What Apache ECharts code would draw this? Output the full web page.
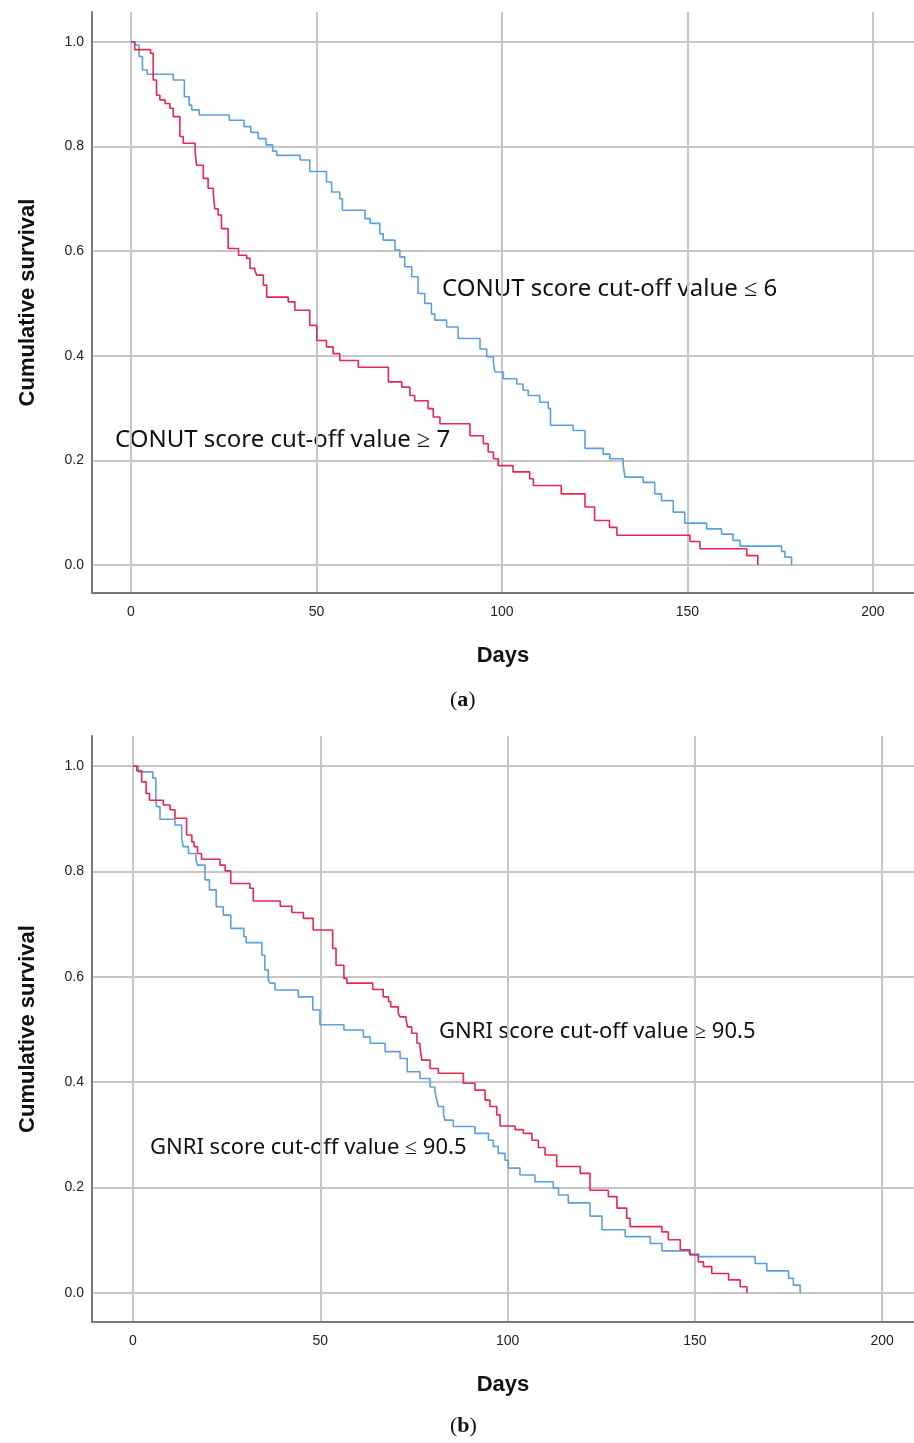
<!DOCTYPE html>
<html>
<head>
<meta charset="utf-8">
<script src="https://cdn.jsdelivr.net/npm/echarts@6/dist/echarts.min.js"></script>
<style>
html,body{margin:0;padding:0;background:#fff;}
#chart{width:914px;height:1443px;}
</style>
</head>
<body>
<div id="chart"></div>
<script>
// ---- data (days, cumulative survival after event) ----
var conutHigh = [[0,1.0],[1.0,0.985],[5.3,0.978],[6.0,0.927],[6.9,0.898],[7.8,0.889],[9.2,0.882],[10.5,0.873],[11.4,0.857],[13.2,0.819],[14.1,0.806],[17.3,0.790],[17.7,0.764],[19.5,0.739],[20.8,0.720],[22.2,0.710],[22.6,0.681],[23.5,0.669],[24.4,0.643],[26.2,0.605],[29.0,0.592],[31.2,0.586],[32.1,0.567],[33.4,0.563],[33.9,0.554],[35.7,0.535],[36.6,0.512],[42.4,0.503],[44.2,0.487],[48.2,0.458],[50.1,0.429],[52.7,0.417],[54.5,0.404],[56.3,0.391],[61.3,0.378],[69.4,0.350],[73.0,0.340],[75.2,0.324],[76.5,0.314],[80.1,0.299],[81.5,0.283],[83.3,0.270],[91.4,0.247],[95.0,0.232],[96.3,0.216],[97.7,0.203],[99.0,0.190],[103.0,0.178],[107.5,0.165],[108.5,0.152],[116.0,0.136],[122.4,0.111],[125.0,0.085],[129.0,0.072],[131.0,0.057],[150.7,0.045],[153.4,0.031],[166.0,0.018],[169.0,0.0]];
var conutLow = [[0,1.0],[1.1,0.994],[2.2,0.972],[3.1,0.946],[4.4,0.938],[11.4,0.927],[14.4,0.895],[15.7,0.879],[16.4,0.870],[18.4,0.860],[26.5,0.850],[30.5,0.838],[32.3,0.827],[34.3,0.815],[36.4,0.803],[38.2,0.791],[39.3,0.783],[45.6,0.774],[48.2,0.752],[52.7,0.732],[54.1,0.713],[56.3,0.700],[57.0,0.678],[63.1,0.662],[64.5,0.653],[67.1,0.633],[68.0,0.621],[71.2,0.602],[72.5,0.589],[73.8,0.570],[75.7,0.551],[77.4,0.519],[79.2,0.500],[81.0,0.480],[81.9,0.468],[85.1,0.455],[88.2,0.433],[94.1,0.413],[95.9,0.398],[97.7,0.388],[98.1,0.369],[100.4,0.356],[104.0,0.346],[105.7,0.334],[107.1,0.324],[110.2,0.311],[112.5,0.299],[113.1,0.267],[119.2,0.257],[122.4,0.223],[127.3,0.212],[129.1,0.203],[132.7,0.190],[133.2,0.168],[138.1,0.158],[141.2,0.136],[143.0,0.123],[146.2,0.101],[149.3,0.080],[155.2,0.069],[159.2,0.059],[162.3,0.047],[164.2,0.036],[175.4,0.026],[176.3,0.015],[178.1,0.0]];
var gnriHigh = [[0,1.0],[1.0,0.991],[2.3,0.970],[3.5,0.948],[4.4,0.935],[8.1,0.926],[9.9,0.917],[11.2,0.901],[14.3,0.869],[15.7,0.856],[16.3,0.847],[17.2,0.834],[18.3,0.823],[23.2,0.812],[24.6,0.801],[26.1,0.777],[31.2,0.768],[32.1,0.744],[39.3,0.734],[42.4,0.722],[45.5,0.711],[48.1,0.689],[53.3,0.654],[54.2,0.622],[56.3,0.597],[57.1,0.588],[64.0,0.576],[66.8,0.562],[68.2,0.553],[68.8,0.543],[70.8,0.531],[71.3,0.524],[72.9,0.518],[73.3,0.505],[74.4,0.493],[75.8,0.474],[76.6,0.467],[77.1,0.442],[79.3,0.426],[81.5,0.417],[88.2,0.398],[91.3,0.385],[94.0,0.366],[95.3,0.354],[97.1,0.338],[98.0,0.317],[102.0,0.310],[104.2,0.303],[106.5,0.290],[108.2,0.276],[110.0,0.262],[113.1,0.240],[119.4,0.227],[122.0,0.195],[126.9,0.183],[129.2,0.161],[131.8,0.142],[132.7,0.126],[141.2,0.116],[142.9,0.101],[146.1,0.082],[148.7,0.072],[150.9,0.059],[152.3,0.050],[154.5,0.037],[159.0,0.025],[162.1,0.012],[163.9,0.0]];
var gnriLow = [[0,1.0],[1.4,0.989],[5.3,0.977],[6.1,0.935],[6.3,0.923],[7.2,0.899],[11.2,0.888],[13.0,0.863],[13.4,0.847],[14.8,0.834],[16.8,0.822],[17.2,0.812],[19.2,0.784],[20.4,0.765],[22.2,0.733],[24.1,0.717],[26.1,0.692],[29.6,0.676],[30.2,0.665],[34.4,0.641],[35.2,0.613],[36.1,0.594],[36.6,0.588],[37.9,0.575],[44.1,0.562],[48.0,0.537],[49.9,0.509],[56.3,0.499],[61.5,0.486],[63.3,0.474],[67.3,0.458],[71.3,0.445],[73.2,0.420],[76.6,0.407],[79.3,0.391],[80.6,0.382],[81.1,0.366],[81.5,0.354],[82.9,0.338],[83.3,0.328],[85.5,0.316],[91.3,0.303],[94.9,0.290],[96.2,0.278],[97.5,0.265],[99.3,0.252],[100.2,0.237],[103.3,0.224],[107.3,0.211],[112.2,0.199],[113.6,0.186],[116.2,0.171],[122.0,0.146],[125.2,0.120],[131.4,0.107],[138.1,0.094],[141.2,0.080],[148.5,0.074],[151.0,0.069],[166.1,0.056],[169.2,0.042],[175.0,0.028],[176.3,0.015],[178.1,0.0]];

var xTicks = [0, 50, 100, 150, 200];
var yTicks = [0, 0.2, 0.4, 0.6, 0.8, 1.0];
var xTitle = 'Days';
var yTitle = 'Cumulative survival';
var labelsA = ['CONUT score cut-off value \u2264 6', 'CONUT score cut-off value \u2265 7'];
var labelsB = ['GNRI score cut-off value \u2265 90.5', 'GNRI score cut-off value \u2264 90.5'];

var RED = '#e8264f', BLUE = '#5ba0dd', GRIDC = '#c6c6c6', AXC = '#7a7a7a';

function xAxisDef(idx, min, max) {
  return {
    type: 'value', gridIndex: idx, min: min, max: max,
    name: xTitle, nameLocation: 'middle', nameGap: 52,
    nameTextStyle: {fontFamily: 'Liberation Sans', fontWeight: 'bold', fontSize: 22, color: '#111'},
    axisLine: {show: true, onZero: false, lineStyle: {color: AXC, width: 2}},
    axisTick: {show: false, customValues: xTicks},
    axisLabel: {customValues: xTicks, margin: 12, fontFamily: 'Liberation Sans', fontSize: 14, color: '#222'},
    splitLine: {show: true, lineStyle: {color: GRIDC, width: 2}}
  };
}
function yAxisDef(idx, min, max) {
  return {
    type: 'value', gridIndex: idx, min: min, max: max,
    name: yTitle, nameLocation: 'middle', nameGap: 53, nameRotate: 90,
    nameTextStyle: {fontFamily: 'Liberation Sans', fontWeight: 'bold', fontSize: 22, color: '#111'},
    axisLine: {show: true, onZero: false, lineStyle: {color: AXC, width: 2}},
    axisTick: {show: false, customValues: yTicks},
    axisLabel: {customValues: yTicks, margin: 8, fontFamily: 'Liberation Sans', fontSize: 14, color: '#222',
      formatter: function (v) { return v.toFixed(1); }},
    splitLine: {show: true, lineStyle: {color: GRIDC, width: 2}}
  };
}
function km(data, color, xi) {
  return {type: 'line', xAxisIndex: xi, yAxisIndex: xi, data: data, step: 'end',
    showSymbol: false, symbol: 'none', silent: true, animation: false, z: 3,
    lineStyle: {color: color, width: 1.6}};
}
function note(x, y, s, size) {
  return {type: 'text', left: x, top: y, silent: true,
    style: {text: s, fontFamily: 'Noto Sans', fontSize: size, fill: '#111'}};
}
function panel(y, letter) {
  return {type: 'text', left: 450, top: y, silent: true,
    style: {text: '({b|' + letter + '})', fontFamily: 'Liberation Serif', fontSize: 22, fill: '#111',
      rich: {b: {fontFamily: 'Liberation Serif', fontWeight: 'bold', fontSize: 22, fill: '#111'}}}};
}

var chart = echarts.init(document.getElementById('chart'), null, {renderer: 'canvas'});
chart.setOption({
  animation: false,
  backgroundColor: '#fff',
  grid: [
    {left: 92, top: 12, width: 822, height: 581, containLabel: false},
    {left: 92, top: 736, width: 822, height: 586, containLabel: false}
  ],
  xAxis: [xAxisDef(0, -10.5, 211.1), xAxisDef(1, -10.95, 208.5)],
  yAxis: [yAxisDef(0, -0.0535, 1.057), yAxisDef(1, -0.055, 1.057)],
  series: [
    km(conutLow, BLUE, 0), km(conutHigh, RED, 0),
    km(gnriLow, BLUE, 1), km(gnriHigh, RED, 1)
  ],
  graphic: [
    note(442, 277, labelsA[0], 24),
    note(115, 428, labelsA[1], 24),
    note(439, 1021, labelsB[0], 22),
    note(150, 1137, labelsB[1], 22),
    panel(689, 'a'),
    panel(1415, 'b')
  ]
});
</script>
</body>
</html>
